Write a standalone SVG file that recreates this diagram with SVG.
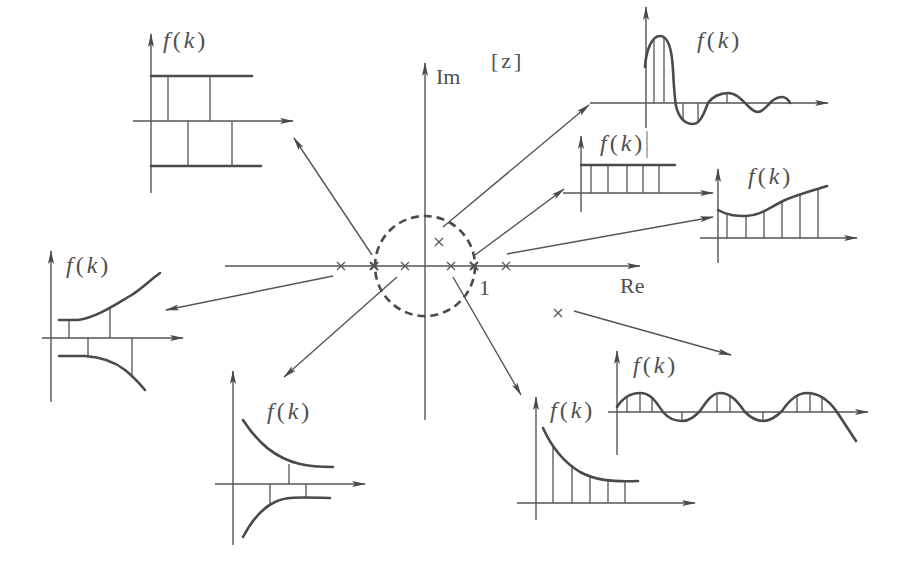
<svg xmlns="http://www.w3.org/2000/svg" width="903" height="562" viewBox="0 0 903 562">
<defs>
<marker id="ah" markerUnits="userSpaceOnUse" viewBox="0 0 14 6" refX="13" refY="3" markerWidth="14" markerHeight="6" orient="auto">
<path d="M0,0 L14,3 L0,6 L3,3 z" fill="#4a4a4a"/>
</marker>
<style>
.ax{stroke:#555;stroke-width:1.4;fill:none}
.axa{stroke:#555;stroke-width:1.4;fill:none;marker-end:url(#ah)}
.cv{stroke:#4a4a4a;stroke-width:2.6;fill:none;stroke-linecap:round}
.st{stroke:#555;stroke-width:1.3;fill:none}
.cn{stroke:#555;stroke-width:1.4;fill:none;marker-end:url(#ah)}
.cr{stroke:#555;stroke-width:1.2;fill:none}
.lb{font-family:"Liberation Serif",serif;font-size:24px;fill:#505050;letter-spacing:3px}
.tx{font-family:"Liberation Serif",serif;font-size:22px;fill:#505050}
</style>
</defs>
<rect width="903" height="562" fill="#fff"/>

<g id="zplane">
<line class="ax" x1="225" y1="266" x2="640" y2="266" marker-end="url(#ah)"/>
<line class="ax" x1="425" y1="420" x2="425" y2="63" marker-end="url(#ah)"/>
<circle cx="425" cy="266" r="50" fill="none" stroke="#4a4a4a" stroke-width="2.6" stroke-dasharray="8 5"/>
<g class="cr">
<path d="M337,262 l8,8 m0,-8 l-8,8"/>
<path d="M370,262 l8,8 m0,-8 l-8,8" stroke-width="2.4"/>
<path d="M401,262 l8,8 m0,-8 l-8,8"/>
<path d="M447,262 l8,8 m0,-8 l-8,8"/>
<path d="M470,262 l8,8 m0,-8 l-8,8" stroke-width="2.4"/>
<path d="M502,262 l8,8 m0,-8 l-8,8"/>
<path d="M435,238 l8,8 m0,-8 l-8,8"/>
<path d="M554,309 l8,8 m0,-8 l-8,8"/>
</g>
<text class="tx" x="436" y="84">Im</text>
<text class="tx" x="491" y="68" letter-spacing="3">[z]</text>
<text class="tx" x="479" y="295">1</text>
<text class="tx" x="620" y="293">Re</text>
</g>

<g id="connectors">
<line class="cn" x1="372" y1="255" x2="294" y2="138"/>
<line class="cn" x1="443" y1="227" x2="589" y2="105"/>
<line class="cn" x1="475" y1="255" x2="564" y2="189"/>
<line class="cn" x1="507" y1="254" x2="713" y2="217"/>
<line class="cn" x1="574" y1="311" x2="731" y2="355"/>
<line class="cn" x1="453" y1="277" x2="521" y2="395"/>
<line class="cn" x1="397" y1="277" x2="284" y2="377"/>
<line class="cn" x1="333" y1="276" x2="166" y2="310"/>
</g>

<g id="panel-tl">
<line class="axa" x1="151" y1="193" x2="151" y2="34"/>
<line class="axa" x1="133" y1="121" x2="293" y2="121"/>
<line class="cv" x1="151" y1="76" x2="252" y2="76"/>
<line class="cv" x1="151" y1="166" x2="261" y2="166"/>
<path class="st" d="M168,76 V121 M210,76 V121 M188,121 V166 M232,121 V166"/>
<text class="lb" x="163" y="48"><tspan font-style="italic">f</tspan>(<tspan font-style="italic">k</tspan>)</text>
</g>

<g id="panel-tr">
<line class="axa" x1="646" y1="128" x2="646" y2="7"/>
<line class="axa" x1="590" y1="103" x2="828" y2="103"/>
<path class="st" d="M654,103 V40 M664,103 V37 M683,103 V121 M698,103 V122 M727,103 V93"/>
<path class="cv" d="M645,67 C646,50 652,36 660,36 C668,36 672,50 673,70 C674,90 675,100 676,106 C679,118 685,124 693,124 C701,124 705,110 708,103 C712,97 720,93 728,93 C736,93 742,100 748,106 C752,110 755,112 758,112 C763,112 767,106 772,101 C776,98 779,97 782,97 C786,97 789,101 790,103"/>
<text class="lb" x="697" y="48"><tspan font-style="italic">f</tspan>(<tspan font-style="italic">k</tspan>)</text>
</g>

<g id="panel-const">
<line class="axa" x1="581" y1="212" x2="581" y2="136"/>
<line class="axa" x1="563" y1="193" x2="713" y2="193"/>
<line class="cv" x1="581" y1="165" x2="675" y2="165"/>
<path class="st" d="M591,165 V193 M608,165 V193 M627,165 V193 M643,165 V193 M659,165 V193"/>
<line x1="647" y1="131" x2="647" y2="158" stroke="#666" stroke-width="1"/>
<text class="lb" x="600" y="151"><tspan font-style="italic">f</tspan>(<tspan font-style="italic">k</tspan>)</text>
</g>

<g id="panel-inc">
<line class="axa" x1="718" y1="263" x2="718" y2="169"/>
<line class="axa" x1="700" y1="238" x2="857" y2="238"/>
<path class="st" d="M727,238 V213 M746,238 V216 M764,238 V211 M782,238 V202 M800,238 V195 M818,238 V189"/>
<path class="cv" d="M718,210 C728,216 738,216 746,216 C760,216 770,207 785,200 C800,194 815,190 827,186"/>
<text class="lb" x="748" y="184"><tspan font-style="italic">f</tspan>(<tspan font-style="italic">k</tspan>)</text>
</g>

<g id="panel-left">
<line class="axa" x1="51" y1="402" x2="51" y2="251"/>
<line class="axa" x1="42" y1="338" x2="183" y2="338"/>
<path class="st" d="M69,338 V320 M110,338 V308 M88,338 V357 M132,338 V378"/>
<path class="cv" d="M59,320 L78,320 C95,318 115,305 130,296 C142,289 150,280 160,273"/>
<path class="cv" d="M59,356 L85,356 C100,357 115,362 125,370 C135,378 140,384 145,390"/>
<text class="lb" x="66" y="273"><tspan font-style="italic">f</tspan>(<tspan font-style="italic">k</tspan>)</text>
</g>

<g id="panel-bl">
<line class="axa" x1="233" y1="545" x2="233" y2="371"/>
<line class="axa" x1="215" y1="484" x2="365" y2="484"/>
<path class="st" d="M289,484 V464 M270,484 V504 M306,484 V497"/>
<path class="cv" d="M243,420 C258,443 275,458 300,464 C312,467 322,467 333,467"/>
<path class="cv" d="M243,537 C252,520 262,508 275,502 C285,497 295,497 330,498"/>
<text class="lb" x="267" y="419"><tspan font-style="italic">f</tspan>(<tspan font-style="italic">k</tspan>)</text>
</g>

<g id="panel-decay">
<line class="axa" x1="536" y1="520" x2="536" y2="397"/>
<line class="axa" x1="517" y1="503" x2="695" y2="503"/>
<path class="st" d="M553,503 V446 M572,503 V465 M590,503 V476 M608,503 V481 M625,503 V481"/>
<path class="cv" d="M543,428 C553,450 565,463 580,472 C595,480 610,482 638,481"/>
<text class="lb" x="550" y="418"><tspan font-style="italic">f</tspan>(<tspan font-style="italic">k</tspan>)</text>
</g>

<g id="panel-sine">
<line class="axa" x1="617" y1="455" x2="617" y2="351"/>
<line class="axa" x1="608" y1="412" x2="868" y2="412"/>
<path class="st" d="M627,412 V397 M640,412 V393 M652,412 V397 M682,412 V421 M717,412 V394 M730,412 V395 M763,412 V421 M797,412 V395 M810,412 V393 M822,412 V396"/>
<path class="cv" d="M617,407 C624,396 632,393 640,393 C652,393 657,404 663,412 C668,418 674,421 682,421 C690,421 695,416 700,411 C706,402 712,393 720,393 C732,393 739,404 745,412 C751,418 756,421 763,421 C771,421 777,416 782,411 C788,402 796,393 807,393 C820,393 830,402 837,412 L856,441"/>
<text class="lb" x="633" y="373"><tspan font-style="italic">f</tspan>(<tspan font-style="italic">k</tspan>)</text>
</g>
</svg>
